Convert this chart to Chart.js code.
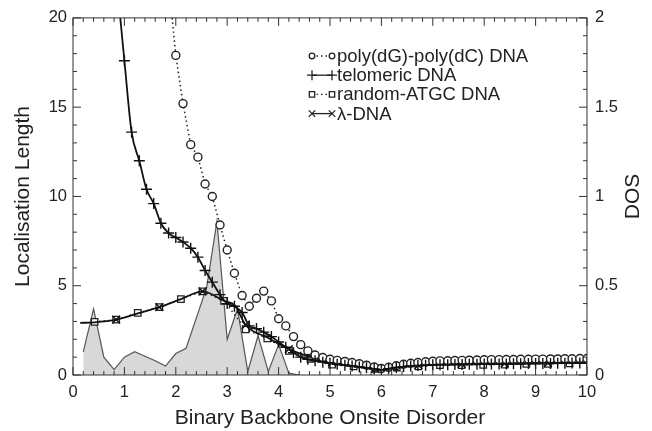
<!DOCTYPE html>
<html>
<head>
<meta charset="utf-8">
<script src="https://cdn.jsdelivr.net/npm/chart.js@4.4.1/dist/chart.umd.min.js"></script>
<style>
  html, body { margin: 0; padding: 0; background: #fff; }
</style>
</head>
<body>
<canvas id="locChart" width="652" height="431"></canvas>
<script>
// values
const polyX = [1.86, 2.0, 2.14, 2.29, 2.43, 2.57, 2.71, 2.86, 3.0, 3.14,
  3.29, 3.43, 3.57, 3.71, 3.86, 4.0, 4.14, 4.29, 4.43, 4.57,
  4.71, 4.86, 5.0, 5.14, 5.29, 5.43, 5.57, 5.71, 5.86, 6.0,
  6.14, 6.29, 6.43, 6.57, 6.71, 6.86, 7.0, 7.14, 7.29, 7.43,
  7.57, 7.71, 7.86, 8.0, 8.14, 8.29, 8.43, 8.57, 8.71, 8.86,
  9.0, 9.14, 9.29, 9.43, 9.57, 9.71, 9.86, 10.0];
const polyY = [22.0, 17.9, 15.2, 12.9, 12.2, 10.7, 10.0, 8.4, 7.0, 5.7,
  4.45, 3.85, 4.3, 4.7, 4.15, 3.15, 2.75, 2.15, 1.7, 1.35,
  1.12, 0.98, 0.88, 0.82, 0.76, 0.7, 0.63, 0.55, 0.45, 0.36,
  0.43, 0.52, 0.6, 0.66, 0.7, 0.74, 0.77, 0.79, 0.8, 0.81,
  0.82, 0.83, 0.84, 0.85, 0.86, 0.86, 0.87, 0.87, 0.88, 0.88,
  0.89, 0.89, 0.9, 0.9, 0.91, 0.91, 0.92, 0.92];

const telX = [0.86, 1.0, 1.14, 1.29, 1.43, 1.57, 1.71, 1.86, 2.0, 2.14,
  2.29, 2.43, 2.57, 2.71, 2.86, 3.0, 3.14, 3.29, 3.43, 3.57,
  3.71, 3.86, 4.0, 4.14, 4.29, 4.43, 4.57, 4.71, 4.86, 5.0,
  5.14, 5.29, 5.43, 5.57, 5.71, 5.86, 6.0, 6.14, 6.29, 6.43,
  6.57, 6.71, 6.86, 7.0, 7.14, 7.29, 7.43, 7.57, 7.71, 7.86,
  8.0, 8.14, 8.29, 8.43, 8.57, 8.71, 8.86, 9.0, 9.14, 9.29,
  9.43, 9.57, 9.71, 9.86, 10.0];
const telY = [21.8, 17.6, 13.6, 12.0, 10.4, 9.6, 8.5, 7.95, 7.7, 7.45,
  7.1, 6.6, 5.85, 5.2, 4.5, 4.0, 3.85, 3.5, 2.75, 2.6,
  2.4, 2.15, 1.85, 1.55, 1.25, 1.0, 0.88, 0.8, 0.72, 0.66,
  0.6, 0.55, 0.5, 0.45, 0.4, 0.34, 0.28, 0.35, 0.42, 0.47,
  0.5, 0.53, 0.55, 0.57, 0.58, 0.58, 0.59, 0.59, 0.6, 0.6,
  0.61, 0.61, 0.62, 0.62, 0.63, 0.63, 0.64, 0.64, 0.65, 0.65,
  0.66, 0.66, 0.67, 0.67, 0.68];

const randX = [0.42, 0.84, 1.26, 1.68, 2.1, 2.52, 2.94, 3.36, 3.78, 4.2,
  4.62, 5.04, 5.46, 5.88, 6.3, 6.72, 7.14, 7.56, 7.98, 8.4,
  8.82, 9.24, 9.66];
const randY = [2.98, 3.1, 3.48, 3.8, 4.25, 4.68, 4.15, 2.55, 2.05, 1.35,
  0.9, 0.58, 0.48, 0.35, 0.42, 0.48, 0.55, 0.55, 0.57, 0.58,
  0.62, 0.62, 0.65];

const lamX = [0.14, 0.42, 0.84, 1.26, 1.68, 2.1, 2.52, 2.94, 3.15, 3.36,
  3.78, 4.2, 4.62, 5.04, 5.46, 5.88, 6.3, 6.72, 7.14, 7.56,
  7.98, 8.4, 8.82, 9.24, 9.66, 10.0];
const lamY = [2.92, 2.95, 3.1, 3.45, 3.8, 4.25, 4.68, 4.15, 3.9, 2.8,
  2.1, 1.45, 1.0, 0.72, 0.58, 0.35, 0.45, 0.55, 0.6, 0.62,
  0.64, 0.65, 0.66, 0.67, 0.68, 0.69];
// x positions where the lambda curve carries a marker
const lamMarkX = [0.84, 1.68, 2.52, 3.36, 4.2, 5.04, 5.88, 6.72, 7.56, 8.4, 9.24];

const dosX = [0.2, 0.4, 0.6, 0.8, 1.0, 1.2, 1.4, 1.6, 1.8, 2.0,
  2.2, 2.4, 2.6, 2.8, 3.0, 3.2, 3.4, 3.6, 3.8, 4.0,
  4.2, 4.4];
const dosY = [0.13, 0.37, 0.10, 0.03, 0.10, 0.13, 0.105, 0.08, 0.05, 0.12,
  0.15, 0.32, 0.49, 0.86, 0.20, 0.37, 0.02, 0.22, 0.02, 0.17,
  0.01, 0.0];

const xTicks = ['0', '1', '2', '3', '4', '5', '6', '7', '8', '9', '10'];
const dosTicks = ['0', '0.5', '1', '1.5', '2'];

function pairs(xs, ys) {
  return xs.map((x, i) => ({x: x, y: ys[i]}));
}

const INK = '#222';
const FONT = "'Liberation Sans', Arial, Helvetica, sans-serif";
Chart.defaults.font.family = FONT;
Chart.defaults.font.size = 16.5;
Chart.defaults.color = INK;

// box, inside tick marks on all four sides, and the DOS title
const frameTicks = {
  id: 'frameTicks',
  afterDraw(chart) {
    const {ctx, chartArea: a} = chart;
    const {x, y, y2} = chart.scales;
    ctx.save();
    ctx.strokeStyle = '#333';
    ctx.lineWidth = 1;
    ctx.strokeRect(a.left, a.top, a.right - a.left, a.bottom - a.top);
    ctx.beginPath();
    for (let i = 0; i <= 50; i++) {
      const px = x.getPixelForValue(i * 0.2);
      const len = i % 5 === 0 ? 8 : 4;
      ctx.moveTo(px, a.bottom); ctx.lineTo(px, a.bottom - len);
      ctx.moveTo(px, a.top); ctx.lineTo(px, a.top + len);
    }
    for (let i = 0; i <= 20; i++) {
      const py = y.getPixelForValue(i);
      const len = i % 5 === 0 ? 8 : 4;
      ctx.moveTo(a.left, py); ctx.lineTo(a.left + len, py);
    }
    for (let i = 0; i <= 20; i++) {
      const py = y2.getPixelForValue(i / 10);
      const len = i % 5 === 0 ? 8 : 4;
      ctx.moveTo(a.right, py); ctx.lineTo(a.right - len, py);
    }
    ctx.stroke();

    ctx.translate(633, (a.top + a.bottom) / 2);
    ctx.rotate(-Math.PI / 2);
    ctx.fillStyle = INK;
    ctx.font = '21px ' + FONT;
    ctx.textAlign = 'center';
    ctx.textBaseline = 'middle';
    ctx.fillText('DOS', 0, 0);
    ctx.restore();
  }
};

// legend in the style of the figure: marker, line, marker, label
const sampleLegend = {
  id: 'sampleLegend',
  afterDraw(chart) {
    const ctx = chart.ctx;
    const x0 = 312, x1 = 332, top = 56, step = 19.2;
    const sizes = [2.8, 5, 3.8, 4.6];
    for (let i = 0; i < 4; i++) {
      const ds = chart.data.datasets[i];
      const yy = top + i * step;
      ctx.save();
      ctx.strokeStyle = INK;
      ctx.lineWidth = 1.3;
      ctx.setLineDash(ds.borderDash || []);
      ctx.beginPath();
      ctx.moveTo(x0, yy); ctx.lineTo(x1, yy);
      ctx.stroke();
      ctx.setLineDash([]);
      ctx.fillStyle = '#fff';
      const opt = {pointStyle: ds.pointStyle, radius: sizes[i], rotation: 0, borderWidth: 1.2};
      Chart.helpers.drawPoint(ctx, opt, x0, yy);
      Chart.helpers.drawPoint(ctx, opt, x1, yy);
      ctx.fillStyle = INK;
      ctx.font = '18.5px ' + FONT;
      ctx.textBaseline = 'middle';
      ctx.fillText(ds.label, x1 + 5, yy + 1);
      ctx.restore();
    }
  }
};

new Chart(document.getElementById('locChart'), {
  type: 'line',
  data: {
    datasets: [
      {
        label: 'poly(dG)-poly(dC) DNA',
        data: pairs(polyX, polyY),
        borderColor: INK,
        borderWidth: 1.5,
        borderDash: [1.5, 3],
        pointStyle: 'circle',
        pointRadius: 4,
        pointBorderWidth: 1.4,
        pointBorderColor: INK,
        pointBackgroundColor: '#fff',
        order: 2
      },
      {
        label: 'telomeric DNA',
        data: pairs(telX, telY),
        borderColor: '#111',
        borderWidth: 1.8,
        cubicInterpolationMode: 'monotone',
        pointStyle: 'cross',
        pointRadius: 5.5,
        pointBorderWidth: 1.4,
        pointBorderColor: '#111',
        order: 1
      },
      {
        label: 'random-ATGC DNA',
        data: pairs(randX, randY),
        borderColor: INK,
        borderWidth: 1.3,
        borderDash: [1.5, 3],
        pointStyle: 'rect',
        pointRadius: 4.6,
        pointBorderWidth: 1.3,
        pointBorderColor: INK,
        pointBackgroundColor: '#fff',
        order: 4
      },
      {
        label: '\u03bb-DNA',
        data: pairs(lamX, lamY),
        borderColor: '#111',
        borderWidth: 1.8,
        cubicInterpolationMode: 'monotone',
        pointStyle: 'crossRot',
        pointRadius: c => (c.raw && lamMarkX.includes(c.raw.x)) ? 5.5 : 0,
        pointBorderWidth: 1.4,
        pointBorderColor: '#111',
        order: 3
      },
      {
        label: 'DOS',
        data: pairs(dosX, dosY),
        yAxisID: 'y2',
        fill: 'origin',
        backgroundColor: '#d8d8d8',
        borderColor: '#555',
        borderWidth: 1.2,
        pointRadius: 0,
        tension: 0,
        order: 10
      }
    ]
  },
  options: {
    responsive: false,
    animation: false,
    layout: {padding: {top: 17, left: 0, right: 0, bottom: 0}},
    plugins: {
      legend: {display: false},
      tooltip: {enabled: false}
    },
    scales: {
      x: {
        type: 'linear',
        min: 0,
        max: 10,
        grid: {display: false, drawTicks: false},
        border: {display: false},
        ticks: {stepSize: 1, padding: 8, callback: (v, i) => xTicks[i]},
        title: {display: true, text: 'Binary Backbone Onsite Disorder', font: {size: 21}, padding: {top: 0, bottom: 0}},
        afterFit: s => { s.height = 56; }
      },
      y: {
        position: 'left',
        min: 0,
        max: 20,
        grid: {display: false, drawTicks: false},
        border: {display: false},
        ticks: {stepSize: 5, padding: 6},
        title: {display: true, text: 'Localisation Length', font: {size: 21}, padding: {top: 11, bottom: 0}},
        afterFit: s => { s.width = 73; }
      },
      y2: {
        position: 'right',
        min: 0,
        max: 2,
        grid: {display: false, drawTicks: false},
        border: {display: false},
        ticks: {stepSize: 0.5, padding: 8, callback: (v, i) => dosTicks[i]},
        afterFit: s => { s.width = 65; }
      }
    }
  },
  plugins: [frameTicks, sampleLegend]
});
</script>
</body>
</html>
